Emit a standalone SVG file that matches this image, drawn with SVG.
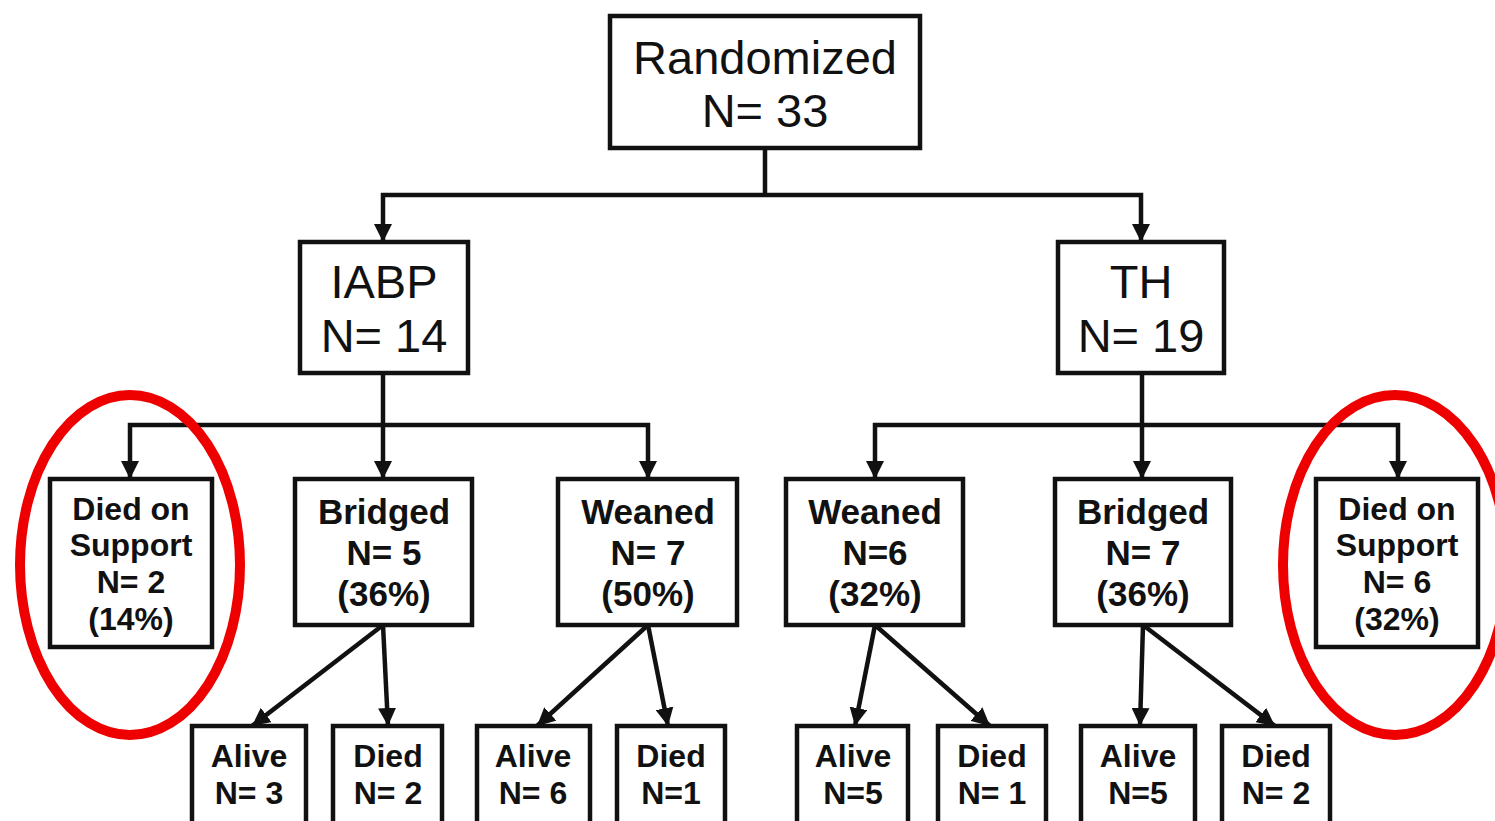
<svg xmlns="http://www.w3.org/2000/svg" width="1495" height="821" viewBox="0 0 1495 821">
<style>
.box{fill:#fff;stroke:#111;stroke-width:4.5}
.ln{fill:none;stroke:#111;stroke-width:4.5}
.t1{font-family:"Liberation Sans",Arial,sans-serif;font-size:47px;fill:#111;text-anchor:middle}
.t2{font-family:"Liberation Sans",Arial,sans-serif;font-size:35px;font-weight:bold;fill:#111;text-anchor:middle}
.t3{font-family:"Liberation Sans",Arial,sans-serif;font-size:32px;font-weight:bold;fill:#111;text-anchor:middle}
.oval{fill:none;stroke:#ee0000;stroke-width:10}
</style>
<defs>
<marker id="ah" markerUnits="userSpaceOnUse" markerWidth="20" markerHeight="18" refX="18" refY="9" orient="auto">
<path d="M0,0 L18,9 L0,18 z" fill="#111"/>
</marker>
</defs>
<rect width="1495" height="821" fill="#fff"/>
<g id="connectors">
<path class="ln" d="M765,148 V195"/>
<path class="ln" d="M765,195 H383 V242" marker-end="url(#ah)"/>
<path class="ln" d="M765,195 H1141 V242" marker-end="url(#ah)"/>
<path class="ln" d="M383,373 V479" marker-end="url(#ah)"/>
<path class="ln" d="M383,425 H130 V479" marker-end="url(#ah)"/>
<path class="ln" d="M383,425 H648 V479" marker-end="url(#ah)"/>
<path class="ln" d="M1142,373 V479" marker-end="url(#ah)"/>
<path class="ln" d="M1142,425 H875 V479" marker-end="url(#ah)"/>
<path class="ln" d="M1142,425 H1398 V479" marker-end="url(#ah)"/>
<path class="ln" d="M383,625 L252,726" marker-end="url(#ah)"/>
<path class="ln" d="M383,625 L388,726" marker-end="url(#ah)"/>
<path class="ln" d="M648,625 L537,726" marker-end="url(#ah)"/>
<path class="ln" d="M648,625 L668,726" marker-end="url(#ah)"/>
<path class="ln" d="M875,625 L855,726" marker-end="url(#ah)"/>
<path class="ln" d="M875,625 L990,726" marker-end="url(#ah)"/>
<path class="ln" d="M1143,625 L1140,726" marker-end="url(#ah)"/>
<path class="ln" d="M1143,625 L1275,726" marker-end="url(#ah)"/>
</g>
<g id="randomized">
<rect class="box" x="610" y="16" width="310" height="132"/>
<text class="t1" x="765" y="74">Randomized</text>
<text class="t1" x="765" y="127">N= 33</text>
</g>
<g id="iabp">
<rect class="box" x="300" y="242" width="168" height="131"/>
<text class="t1" x="384" y="298">IABP</text>
<text class="t1" x="384" y="352">N= 14</text>
</g>
<g id="th">
<rect class="box" x="1058" y="242" width="166" height="131"/>
<text class="t1" x="1141" y="298">TH</text>
<text class="t1" x="1141" y="352">N= 19</text>
</g>
<g id="iabp-died-support">
<rect class="box" x="50" y="479" width="162" height="168"/>
<text class="t3" x="131" y="520">Died on</text>
<text class="t3" x="131" y="556">Support</text>
<text class="t3" x="131" y="593">N= 2</text>
<text class="t3" x="131" y="630">(14%)</text>
</g>
<g id="iabp-bridged">
<rect class="box" x="295" y="479" width="177" height="146"/>
<text class="t2" x="384" y="524">Bridged</text>
<text class="t2" x="384" y="565">N= 5</text>
<text class="t2" x="384" y="606">(36%)</text>
</g>
<g id="iabp-weaned">
<rect class="box" x="558" y="479" width="179" height="146"/>
<text class="t2" x="648" y="524">Weaned</text>
<text class="t2" x="648" y="565">N= 7</text>
<text class="t2" x="648" y="606">(50%)</text>
</g>
<g id="th-weaned">
<rect class="box" x="786" y="479" width="177" height="146"/>
<text class="t2" x="875" y="524">Weaned</text>
<text class="t2" x="875" y="565">N=6</text>
<text class="t2" x="875" y="606">(32%)</text>
</g>
<g id="th-bridged">
<rect class="box" x="1055" y="479" width="176" height="146"/>
<text class="t2" x="1143" y="524">Bridged</text>
<text class="t2" x="1143" y="565">N= 7</text>
<text class="t2" x="1143" y="606">(36%)</text>
</g>
<g id="th-died-support">
<rect class="box" x="1316" y="479" width="162" height="168"/>
<text class="t3" x="1397" y="520">Died on</text>
<text class="t3" x="1397" y="556">Support</text>
<text class="t3" x="1397" y="593">N= 6</text>
<text class="t3" x="1397" y="630">(32%)</text>
</g>
<g id="alive1">
<rect class="box" x="192" y="726" width="114" height="110"/>
<text class="t3" x="249" y="767">Alive</text>
<text class="t3" x="249" y="804">N= 3</text>
</g>
<g id="died1">
<rect class="box" x="333" y="726" width="109" height="110"/>
<text class="t3" x="388" y="767">Died</text>
<text class="t3" x="388" y="804">N= 2</text>
</g>
<g id="alive2">
<rect class="box" x="477" y="726" width="113" height="110"/>
<text class="t3" x="533" y="767">Alive</text>
<text class="t3" x="533" y="804">N= 6</text>
</g>
<g id="died2">
<rect class="box" x="617" y="726" width="108" height="110"/>
<text class="t3" x="671" y="767">Died</text>
<text class="t3" x="671" y="804">N=1</text>
</g>
<g id="alive3">
<rect class="box" x="797" y="726" width="111" height="110"/>
<text class="t3" x="853" y="767">Alive</text>
<text class="t3" x="853" y="804">N=5</text>
</g>
<g id="died3">
<rect class="box" x="938" y="726" width="108" height="110"/>
<text class="t3" x="992" y="767">Died</text>
<text class="t3" x="992" y="804">N= 1</text>
</g>
<g id="alive4">
<rect class="box" x="1081" y="726" width="114" height="110"/>
<text class="t3" x="1138" y="767">Alive</text>
<text class="t3" x="1138" y="804">N=5</text>
</g>
<g id="died4">
<rect class="box" x="1222" y="726" width="108" height="110"/>
<text class="t3" x="1276" y="767">Died</text>
<text class="t3" x="1276" y="804">N= 2</text>
</g>
<g id="highlights">
<ellipse class="oval" cx="130" cy="565" rx="110" ry="170"/>
<ellipse class="oval" cx="1395" cy="565" rx="112" ry="170"/>
</g>
</svg>
